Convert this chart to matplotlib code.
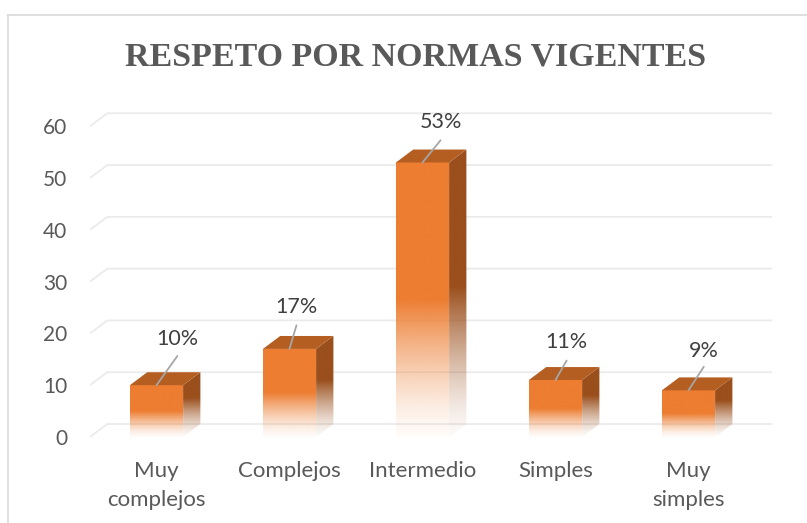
import numpy as np
import matplotlib.pyplot as plt
from matplotlib.patches import Polygon
from matplotlib.colors import to_rgb
from matplotlib.lines import Line2D

categories = ['Muy\ncomplejos', 'Complejos', 'Intermedio', 'Simples', 'Muy\nsimples']
values = [10, 17, 53, 11, 9]
labels = ['10%', '17%', '53%', '11%', '9%']
y_ticks = [0, 10, 20, 30, 40, 50, 60]

# leader line end and label centre, in points from the bar top (dx, line dy, text dy)
label_offsets = [(15, 21, 33), (5, 17, 30), (13, 16, 29), (8, 14, 27), (11, 17, 28)]

FRONT = '#ED7D31'
TOP = '#B55E22'
SIDE = '#9A4F1C'
DX, DY = 0.13, 2.5   # fake depth of the 3d look
W = 0.2              # half bar width


def fade_face(ax, verts, color, ybot, ytop, start):
    # face that goes from full colour at 'start' down to almost nothing at ybot
    poly = Polygon(verts, closed=True, facecolor='none', edgecolor='none')
    ax.add_patch(poly)
    n = 300
    ys = np.linspace(ybot, ytop, n)
    a = np.clip((ys - ybot) / (start - ybot), 0, 1)
    a = 0.03 + 0.97 * a ** 1.4
    rgba = np.zeros((n, 1, 4))
    rgba[:, 0, :3] = to_rgb(color)
    rgba[:, 0, 3] = a
    xs = [p[0] for p in verts]
    im = ax.imshow(rgba, extent=(min(xs), max(xs), ybot, ytop), origin='lower',
                   aspect='auto', interpolation='bilinear', zorder=3)
    im.set_clip_path(poly)


fig = plt.figure(figsize=(8.07, 5.23), dpi=100)
ax = fig.add_axes([90 / 807, (523 - 452.5) / 523, 691.6 / 807, 341.8 / 523])
ax.patch.set_alpha(0)

# chart border (only top and left are in view)
fig.add_artist(Line2D([8 / 807, 8 / 807], [0, 1 - 15 / 523], color='#d9d9d9', lw=1.2))
fig.add_artist(Line2D([8 / 807, 1], [1 - 15 / 523, 1 - 15 / 523], color='#d9d9d9', lw=1.2))

# gridlines on the back wall with the little slanted floor piece
for t in y_ticks:
    ax.plot([-0.5, -0.5 + DX, len(values) - 0.5 + DX], [t, t + DY, t + DY],
            color='#ebebeb', lw=1.3, zorder=1, solid_capstyle='butt')

for i, v in enumerate(values):
    x0, x1 = i - W, i + W
    fade_face(ax, [(x0, 0), (x1, 0), (x1, v), (x0, v)], FRONT, 0, v, v * 0.5)
    fade_face(ax, [(x1, 0), (x1 + DX, DY), (x1 + DX, v + DY), (x1, v)], SIDE,
              0, v + DY, v * 0.5 + DY)
    ax.add_patch(Polygon([(x0, v), (x1, v), (x1 + DX, v + DY), (x0 + DX, v + DY)],
                         closed=True, facecolor=TOP, edgecolor='none', zorder=3))

    ox, oy_line, oy_text = label_offsets[i]
    ax.annotate('', xy=(i, v), xytext=(ox, oy_line), textcoords='offset points',
                arrowprops=dict(arrowstyle='-', color='#a6a6a6', lw=1.3,
                                shrinkA=0, shrinkB=0), zorder=4)
    ax.annotate(labels[i], xy=(i, v), xytext=(ox, oy_text), textcoords='offset points',
                ha='center', va='center', fontsize=15.5, color='#404040',
                family='Lato', zorder=5)

ax.set_xlim(-0.5, 4.7)
ax.set_ylim(-3, 63)
ax.set_yticks(y_ticks)
ax.set_xticks(range(len(categories)))
ax.set_xticklabels(categories, linespacing=1.55)
ax.tick_params(axis='y', length=0, pad=16.5, labelsize=15, labelcolor='#595959')
ax.tick_params(axis='x', length=0, pad=6, labelsize=16, labelcolor='#595959')
for lab in ax.get_xticklabels() + ax.get_yticklabels():
    lab.set_family('Lato')
for s in ax.spines.values():
    s.set_visible(False)

fig.text(0.515, 1 - 66 / 523, 'RESPETO POR NORMAS VIGENTES', ha='center', va='baseline',
         fontsize=24.5, fontweight='bold', family='Liberation Serif', color='#595959')

fig.savefig('out.png', dpi=100)
